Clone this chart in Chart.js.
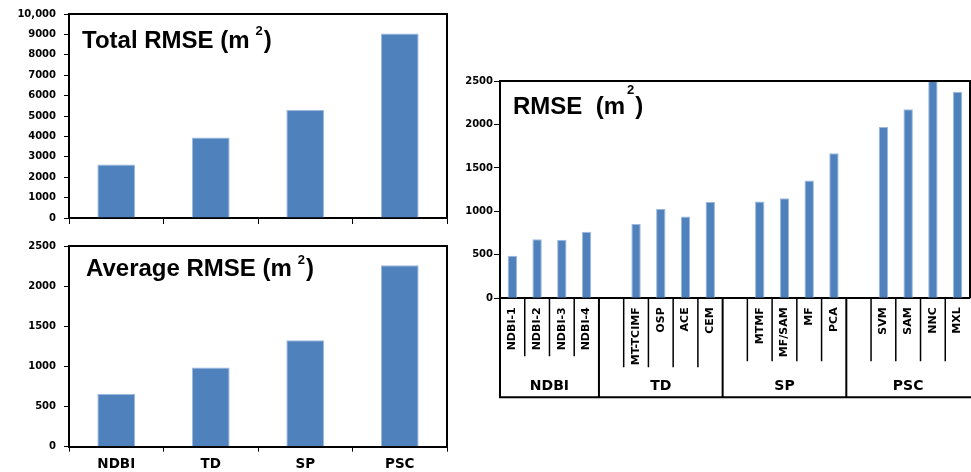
<!DOCTYPE html>
<html>
<head>
<meta charset="utf-8">
<title>RMSE</title>
<script src="https://cdn.jsdelivr.net/npm/chart.js@4.4.0/dist/chart.umd.min.js"></script>
<style>
  html, body { margin: 0; padding: 0; background: #fff; overflow: hidden; }
  body { width: 971px; height: 472px; position: relative; }
  .box { position: absolute; }
</style>
</head>
<body>
<div class="box" style="left:0;top:0;width:460px;height:232px"><canvas id="total-chart"></canvas></div>
<div class="box" style="left:0;top:232px;width:460px;height:240px"><canvas id="average-chart"></canvas></div>
<div class="box" style="left:460px;top:60px;width:520px;height:350px"><canvas id="method-chart"></canvas></div>
<script>
// values
const groups = ['NDBI', 'TD', 'SP', 'PSC'];
const totalRmse = [2620, 3940, 5300, 9040];
const averageRmse = [655, 985, 1325, 2260];

const methods = ['NDBI-1', 'NDBI-2', 'NDBI-3', 'NDBI-4',
    '', 'MT-TCIMF', 'OSP', 'ACE', 'CEM',
    '', 'MTMF', 'MF/SAM', 'MF', 'PCA',
    '', 'SVM', 'SAM', 'NNC', 'MXL'];
const methodRmse = [490, 680, 675, 765,
    null, 855, 1030, 940, 1110,
    null, 1115, 1150, 1355, 1670,
    null, 1970, 2175, 2520, 2375];
const groupSlots = [4, 5, 5, 5]; // slots per group on the right chart (spacer included)

const totalTicks = ['0', '1000', '2000', '3000', '4000', '5000', '6000', '7000', '8000', '9000', '10,000'];
const averageTicks = ['0', '500', '1000', '1500', '2000', '2500'];
const methodTicks = ['0', '500', '1000', '1500', '2000', '2500'];

const BLUE = '#4F81BD';
const TICK_FONT = '"DejaVu Sans", Verdana, sans-serif';
const TITLE_FONT = '"Liberation Sans", Arial, sans-serif';

// box border + title with superscript
const frame = {
    id: 'frame',
    afterDraw(chart, args, opts) {
        const { ctx, chartArea: a } = chart;
        ctx.save();
        ctx.strokeStyle = '#000';
        ctx.lineWidth = 2;
        ctx.beginPath();
        ctx.moveTo(a.left, a.top);
        ctx.lineTo(a.right, a.top);
        ctx.lineTo(a.right, a.bottom);
        ctx.stroke();

        ctx.fillStyle = '#000';
        ctx.textBaseline = 'alphabetic';
        ctx.textAlign = 'left';
        let x = a.left + opts.dx;
        const y = a.top + opts.dy;
        ctx.font = 'bold 24px ' + TITLE_FONT;
        ctx.fillText(opts.text, x, y);
        x += ctx.measureText(opts.text).width + opts.gap;
        ctx.font = 'bold 13px ' + TITLE_FONT;
        ctx.fillText('2', x, y - opts.raise);
        x += ctx.measureText('2').width + 1;
        ctx.font = 'bold 24px ' + TITLE_FONT;
        ctx.fillText(')', x, y);
        ctx.restore();
    }
};

// grouped category axis under the right chart
const groupAxis = {
    id: 'groupAxis',
    afterDraw(chart, args, opts) {
        if (!opts.depths) return;
        const { ctx, chartArea: a, scales: { x } } = chart;
        const step = x.getPixelForValue(1) - x.getPixelForValue(0);
        const edge = i => x.getPixelForValue(0) - step / 2 + i * step;
        const bottom = x.bottom;
        ctx.save();
        ctx.strokeStyle = '#000';
        ctx.fillStyle = '#000';
        ctx.lineWidth = 1.5;
        ctx.font = 'bold 14px ' + TICK_FONT;
        ctx.textAlign = 'center';
        ctx.textBaseline = 'middle';
        let start = 0;
        groupSlots.forEach((n, g) => {
            ctx.beginPath();
            for (let k = 1; k < n; k++) {
                ctx.moveTo(edge(start + k), a.bottom);
                ctx.lineTo(edge(start + k), a.bottom + opts.depths[g]);
            }
            ctx.stroke();
            ctx.lineWidth = 2;
            ctx.beginPath();
            ctx.moveTo(edge(start), g === 0 ? a.top : a.bottom);
            ctx.lineTo(edge(start), bottom);
            ctx.stroke();
            ctx.lineWidth = 1.5;
            ctx.fillText(groups[g], (edge(start) + edge(start + n)) / 2, a.bottom + opts.labelY);
            start += n;
        });
        ctx.lineWidth = 2;
        ctx.beginPath();
        ctx.moveTo(edge(0) - 1, bottom);
        ctx.lineTo(chart.width, bottom);
        ctx.stroke();
        ctx.restore();
    }
};

Chart.register(frame, groupAxis);

function yAxis(max, step, labels, width, size, tick, pad) {
    return {
        min: 0,
        max: max,
        ticks: {
            stepSize: step,
            color: '#000',
            padding: pad,
            font: { family: TICK_FONT, size: size, weight: 'bold' },
            callback: (v, i) => labels[i]
        },
        grid: { drawOnChartArea: false, color: '#000', tickLength: tick },
        border: { color: '#000', width: 2 },
        afterFit: s => { s.width = width; }
    };
}

// Total RMSE (top left)
new Chart(document.querySelector('#total-chart').getContext('2d'), {
    type: 'bar',
    data: {
        labels: groups,
        datasets: [{
            data: totalRmse,
            backgroundColor: BLUE,
            borderColor: '#9fb9dc',
            borderWidth: 1,
            barPercentage: 0.4,
            categoryPercentage: 1
        }]
    },
    options: {
        responsive: true,
        maintainAspectRatio: false,
        animation: false,
        layout: { padding: { top: 14, right: 13, left: 0, bottom: 0 } },
        plugins: {
            legend: { display: false },
            tooltip: { enabled: false },
            frame: { text: 'Total RMSE (m', dx: 13, dy: 34, gap: 6, raise: 13 }
        },
        scales: {
            x: {
                ticks: { display: false },
                grid: { drawOnChartArea: false, color: '#000', tickLength: 6, offset: true },
                border: { color: '#000', width: 2 },
                afterFit: s => { s.height = 10; }
            },
            y: yAxis(10000, 1000, totalTicks, 69, 10, 5, 8)
        }
    }
});

// Average RMSE (bottom left)
new Chart(document.querySelector('#average-chart').getContext('2d'), {
    type: 'bar',
    data: {
        labels: groups,
        datasets: [{
            data: averageRmse,
            backgroundColor: BLUE,
            borderColor: '#9fb9dc',
            borderWidth: 1,
            barPercentage: 0.4,
            categoryPercentage: 1
        }]
    },
    options: {
        responsive: true,
        maintainAspectRatio: false,
        animation: false,
        layout: { padding: { top: 8, right: 13, left: 0, bottom: 0 } },
        plugins: {
            legend: { display: false },
            tooltip: { enabled: false },
            frame: { text: 'Average RMSE (m', dx: 17, dy: 30, gap: 6, raise: 12 }
        },
        scales: {
            x: {
                ticks: {
                    color: '#000',
                    padding: 5,
                    font: { family: TICK_FONT, size: 13.5, weight: 'bold' }
                },
                grid: { drawOnChartArea: false, color: '#000', tickLength: 5, offset: true },
                border: { color: '#000', width: 2 },
                afterFit: s => { s.height = 25.3; }
            },
            y: yAxis(2500, 500, averageTicks, 69, 10, 5, 8)
        }
    }
});

// RMSE per method (right)
new Chart(document.querySelector('#method-chart').getContext('2d'), {
    type: 'bar',
    data: {
        labels: methods,
        datasets: [{
            data: methodRmse,
            backgroundColor: BLUE,
            borderColor: '#9fb9dc',
            borderWidth: 1,
            barPercentage: 0.38,
            categoryPercentage: 1
        }]
    },
    options: {
        responsive: true,
        maintainAspectRatio: false,
        animation: false,
        layout: { padding: { top: 21, right: 6.5, left: 0, bottom: 12.7 } },
        plugins: {
            legend: { display: false },
            tooltip: { enabled: false },
            frame: { text: 'RMSE  (m', dx: 13, dy: 33, gap: 2, raise: 20 },
            groupAxis: { depths: [58, 69, 63, 63], labelY: 88 }
        },
        scales: {
            x: {
                ticks: {
                    color: '#000',
                    padding: 9,
                    autoSkip: false,
                    minRotation: 90,
                    maxRotation: 90,
                    font: { family: TICK_FONT, size: 11, weight: 'bold' }
                },
                grid: { display: false, drawTicks: false },
                border: { color: '#000', width: 2 },
                afterFit: s => { s.height = 99; }
            },
            y: yAxis(2500, 500, methodTicks, 40, 10, 6, 1)
        }
    }
});
</script>
</body>
</html>
